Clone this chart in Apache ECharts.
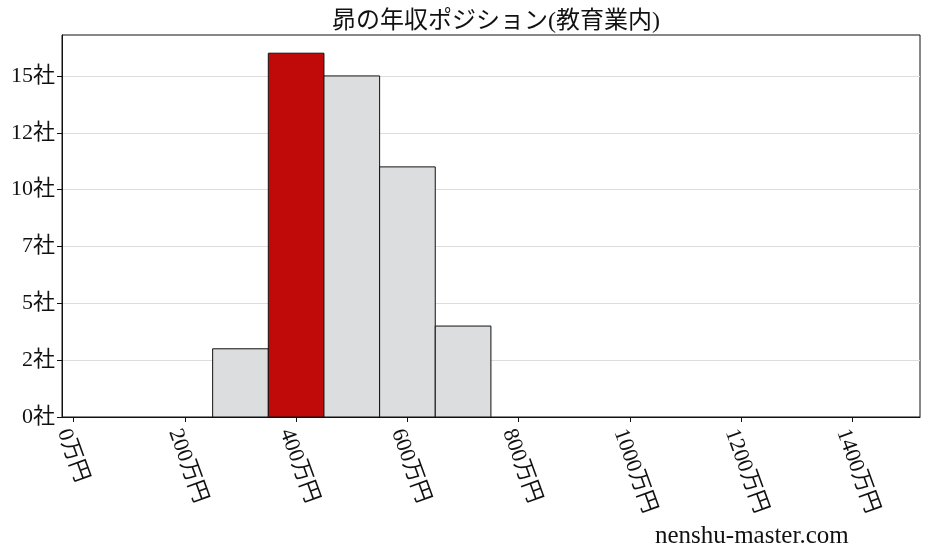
<!DOCTYPE html>
<html>
<head>
<meta charset="utf-8">
<script src="https://cdn.jsdelivr.net/npm/echarts@6/dist/echarts.min.js"></script>
<style>
html,body{margin:0;padding:0;background:#fff;}
#chart{width:928px;height:557px;}
</style>
</head>
<body>
<div id="chart"></div>
<script>
var titleText = '昴の年収ポジション(教育業内)';
var binStarts = [250, 350, 450, 550, 650];
var binEnds = [350, 450, 550, 650, 750];
var counts = [3, 16, 15, 11, 4];
var highlightIndex = 1;
var xTickValues = [0, 200, 400, 600, 800, 1000, 1200, 1400];
var yTickValues = [0, 2.5, 5, 7.5, 10, 12.5, 15];
var watermark = 'nenshu-master.com';

var FONT = '"Liberation Serif", "Noto Sans CJK JP", serif';
var data = binStarts.map(function (s, i) { return [s, binEnds[i], counts[i], i === highlightIndex ? 1 : 0]; });

var chart = echarts.init(document.getElementById('chart'), null, {renderer: 'canvas'});
chart.setOption({
  backgroundColor: '#fff',
  animation: false,
  title: {
    text: titleText, left: 491, top: 5, textAlign: 'center',
    textStyle: {fontFamily: FONT, fontSize: 24, fontWeight: 'normal', color: '#111'}
  },
  grid: {left: 62, right: 8, top: 35, bottom: 140, show: true, borderColor: '#111', borderWidth: 1, backgroundColor: 'transparent'},
  xAxis: {
    type: 'value', min: -20.7, max: 1521,
    axisLine: {show: true, onZero: false, lineStyle: {color: '#111', width: 1}},
    axisTick: {show: true, length: 5, customValues: xTickValues, lineStyle: {color: '#111'}},
    axisLabel: {
      customValues: xTickValues, rotate: -70, margin: 9, verticalAlign: 'top',
      fontFamily: FONT, fontSize: 22, color: '#111',
      formatter: function (v) { return v + '万円'; }
    },
    splitLine: {show: false}
  },
  yAxis: {
    type: 'value', min: 0, max: 16.8,
    axisLine: {show: true, onZero: false, lineStyle: {color: '#111', width: 1}},
    axisTick: {show: true, length: 5, customValues: yTickValues, lineStyle: {color: '#111'}},
    axisLabel: {
      customValues: yTickValues, margin: 7,
      fontFamily: FONT, fontSize: 22, color: '#111',
      formatter: function (v) { return Math.floor(v) + '社'; }
    },
    splitLine: {show: true, lineStyle: {color: '#dddddd', width: 1}}
  },
  series: [{
    type: 'custom',
    data: data,
    encode: {x: [0, 1], y: 2},
    renderItem: function (params, api) {
      var p0 = api.coord([api.value(0), api.value(2)]);
      var p1 = api.coord([api.value(1), 0]);
      return {
        type: 'rect',
        shape: {x: p0[0], y: p0[1], width: p1[0] - p0[0], height: p1[1] - p0[1]},
        style: {fill: api.value(3) ? '#c00a0a' : '#dcdddf', stroke: '#111', lineWidth: 1}
      };
    }
  }],
  graphic: [{
    type: 'text', left: 655, top: 524,
    style: {text: watermark, fontFamily: FONT, fontSize: 25, fill: '#111'}
  }]
});
</script>
</body>
</html>
